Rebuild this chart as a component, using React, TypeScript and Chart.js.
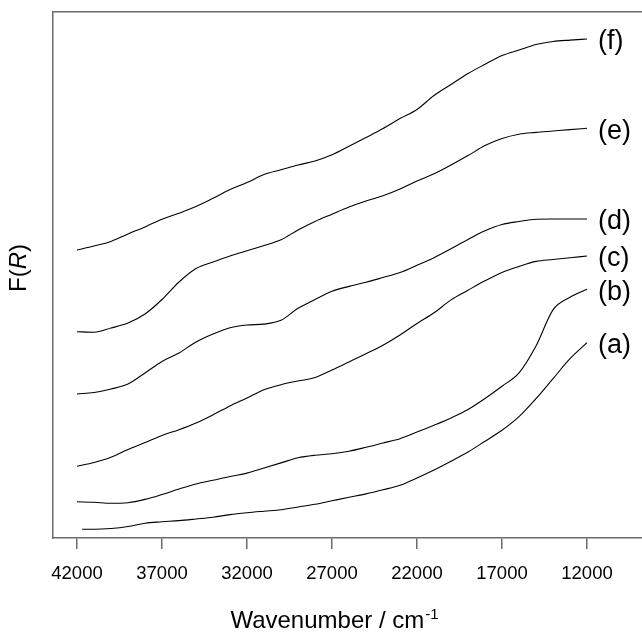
import React, { useEffect, useRef } from "react";
import { Chart, registerables } from "chart.js";

Chart.register(...registerables);

// Wavenumber grid (cm^-1), shared by all spectra
const wavenumbers = [
  42000, 41000, 40000, 39000, 38000, 37000, 36000, 35000, 34000, 33000, 32000,
  31000, 30000, 29000, 28000, 27000, 26000, 25000, 24000, 23000, 22000, 21000,
  20000, 19000, 18000, 17000, 16000, 15000, 14000, 13000, 12000,
];
// spectrum (a) begins slightly below 42000
const firstWavenumberA = 41700;

// Kubelka-Munk F(R), offset spectra (arbitrary units)
const seriesA = [
  0.087, 0.087, 0.095, 0.115, 0.148, 0.162, 0.174, 0.19, 0.207, 0.234, 0.253,
  0.268, 0.282, 0.31, 0.337, 0.372, 0.407, 0.441, 0.482, 0.527, 0.6, 0.68,
  0.768, 0.86, 0.968, 1.078, 1.214, 1.394, 1.593, 1.793, 1.953,
];
const seriesB = [
  0.362, 0.357, 0.347, 0.353, 0.386, 0.435, 0.49, 0.54, 0.577, 0.615, 0.649,
  0.7, 0.751, 0.802, 0.828, 0.843, 0.868, 0.907, 0.95, 0.993, 1.059, 1.128,
  1.201, 1.285, 1.395, 1.518, 1.651, 1.92, 2.281, 2.407, 2.487,
];
const seriesC = [
  0.717, 0.755, 0.807, 0.885, 0.954, 1.026, 1.083, 1.15, 1.232, 1.321, 1.4,
  1.483, 1.533, 1.57, 1.604, 1.68, 1.761, 1.843, 1.928, 2.03, 2.145, 2.252,
  2.381, 2.478, 2.572, 2.656, 2.716, 2.766, 2.785, 2.802, 2.82,
];
const seriesD = [
  1.44, 1.455, 1.49, 1.54, 1.65, 1.765, 1.85, 1.96, 2.04, 2.103, 2.13,
  2.139, 2.177, 2.297, 2.385, 2.467, 2.516, 2.557, 2.605, 2.654, 2.727, 2.803,
  2.893, 2.985, 3.072, 3.135, 3.165, 3.188, 3.19, 3.19, 3.19,
];
const seriesE = [
  2.063, 2.058, 2.1, 2.15, 2.24, 2.385, 2.56, 2.695, 2.76, 2.82, 2.872,
  2.924, 2.983, 3.08, 3.165, 3.238, 3.31, 3.37, 3.423, 3.491, 3.57, 3.642,
  3.73, 3.824, 3.924, 3.995, 4.038, 4.056, 4.07, 4.084, 4.097,
];
const seriesF = [
  2.88, 2.92, 2.966, 3.04, 3.111, 3.188, 3.248, 3.315, 3.397, 3.484, 3.554,
  3.635, 3.682, 3.73, 3.77, 3.832, 3.917, 4.005, 4.095, 4.194, 4.285, 4.425,
  4.535, 4.645, 4.737, 4.824, 4.88, 4.935, 4.965, 4.979, 4.99,
];

const seriesLabels = ["(a)", "(b)", "(c)", "(d)", "(e)", "(f)"];
const tickValues = [42000, 37000, 32000, 27000, 22000, 17000, 12000];

const xTitle = "Wavenumber / cm";
const xTitleSup = "-1";

const FONT = "'Liberation Sans', Arial, Helvetica, sans-serif";
const FRAME = "#6b6b6b";

const X_MIN = 8765;
const X_MAX = 43412;

function toPoints(values: number[], first?: number) {
  return values.map((y, i) => ({
    x: i === 0 && first !== undefined ? first : wavenumbers[i],
    y,
  }));
}

const annotations = {
  id: "annotations",
  afterDraw(chart: any) {
    const { ctx } = chart;
    ctx.save();
    ctx.fillStyle = "#000";

    // series labels next to the low-wavenumber end of each curve
    ctx.font = `27px ${FONT}`;
    ctx.textAlign = "left";
    ctx.textBaseline = "middle";
    chart.data.datasets.forEach((ds: any, i: number) => {
      const meta = chart.getDatasetMeta(i);
      const last = meta.data[meta.data.length - 1];
      ctx.fillText(ds.label, last.x + 11, last.y + 3);
    });

    // x-axis title with superscript
    ctx.textAlign = "left";
    ctx.textBaseline = "alphabetic";
    ctx.font = `24px ${FONT}`;
    const w1 = ctx.measureText(xTitle).width;
    ctx.font = `15px ${FONT}`;
    const w2 = ctx.measureText(xTitleSup).width;
    const cx = 334;
    const baseY = 628;
    const startX = cx - (w1 + w2) / 2;
    ctx.font = `24px ${FONT}`;
    ctx.fillText(xTitle, startX, baseY);
    ctx.font = `15px ${FONT}`;
    ctx.fillText(xTitleSup, startX + w1 + 1, baseY - 9);

    // y-axis title F(R) with italic R
    ctx.translate(19, 268);
    ctx.rotate(-Math.PI / 2);
    ctx.textBaseline = "middle";
    const parts = [
      { t: "F(", f: `24px ${FONT}` },
      { t: "R", f: `italic 24px ${FONT}` },
      { t: ")", f: `24px ${FONT}` },
    ];
    let total = 0;
    const widths = parts.map((p) => {
      ctx.font = p.f;
      const w = ctx.measureText(p.t).width;
      total += w;
      return w;
    });
    let px = -total / 2;
    parts.forEach((p, i) => {
      ctx.font = p.f;
      ctx.fillText(p.t, px, 0);
      px += widths[i];
    });

    ctx.restore();
  },
};

export default function App() {
  const canvasRef = useRef<HTMLCanvasElement | null>(null);

  useEffect(() => {
    const canvas = canvasRef.current;
    if (!canvas) return;
    const allSeries = [seriesA, seriesB, seriesC, seriesD, seriesE, seriesF];
    const chart = new Chart(canvas, {
      type: "line",
      data: {
        datasets: allSeries.map((values, i) => ({
          label: seriesLabels[i],
          data: toPoints(values, i === 0 ? firstWavenumberA : undefined),
          borderColor: "#000",
          borderWidth: 1.1,
          pointRadius: 0,
          fill: false,
          cubicInterpolationMode: "monotone" as const,
        })),
      },
      options: {
        animation: false,
        responsive: false,
        devicePixelRatio: 1,
        layout: { padding: 0 },
        plugins: {
          legend: { display: false },
          tooltip: { enabled: false },
          title: { display: false },
        },
        scales: {
          x: {
            type: "linear",
            position: "bottom",
            reverse: true,
            min: X_MIN,
            max: X_MAX,
            afterBuildTicks: (scale: any) => {
              scale.ticks = tickValues.map((v) => ({ value: v }));
            },
            afterFit: (scale: any) => {
              scale.height = 99;
            },
            ticks: {
              autoSkip: false,
              maxRotation: 0,
              padding: 14,
              color: "#000",
              font: { family: FONT, size: 18.5 },
              callback: (v: any) => String(v),
            },
            grid: {
              drawOnChartArea: false,
              drawTicks: true,
              tickLength: 11,
              color: FRAME,
              lineWidth: 1.5,
            },
            border: { display: true, color: FRAME, width: 1.5 },
          },
          xTop: {
            type: "linear",
            position: "top",
            reverse: true,
            min: X_MIN,
            max: X_MAX,
            afterFit: (scale: any) => {
              scale.height = 12;
            },
            ticks: { display: false },
            grid: { display: false, drawTicks: false },
            border: { display: true, color: FRAME, width: 1.5 },
          },
          y: {
            type: "linear",
            min: 0,
            max: 5.26,
            afterFit: (scale: any) => {
              scale.width = 53;
            },
            ticks: { display: false },
            grid: { display: false, drawTicks: false },
            border: { display: true, color: FRAME, width: 1.5 },
          },
        },
      },
      plugins: [annotations],
    } as any);
    return () => chart.destroy();
  }, []);

  return (
    <div style={{ position: "absolute", left: 0, top: 0, width: 642, height: 637, background: "#fff" }}>
      <canvas ref={canvasRef} width={642} height={637} />
    </div>
  );
}
